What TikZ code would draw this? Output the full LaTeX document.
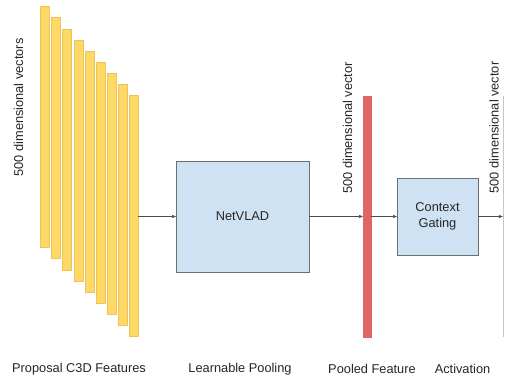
\documentclass[tikz,border=0pt]{standalone}
\usepackage{fontspec}
\setmainfont{Liberation Sans}
\usetikzlibrary{arrows.meta}
\definecolor{vecyellow}{HTML}{FFD966}
\definecolor{vecedge}{HTML}{EBC45C}
\definecolor{poolred}{HTML}{E06666}
\definecolor{boxblue}{HTML}{CFE2F3}
\definecolor{boxedge}{HTML}{6E6E6E}
\definecolor{txt}{HTML}{262626}
\begin{document}
\begin{tikzpicture}[x={(1pt,0)}, y={(0,-1pt)},
  vecbar/.style={draw=vecedge, line width=0.5pt, fill=vecyellow, inner sep=0, outer sep=0,
    minimum width=9pt, minimum height=241pt, anchor=north west},
  pooledbar/.style={draw=poolred, line width=0.5pt, fill=poolred, inner sep=0, outer sep=0,
    minimum width=8pt, minimum height=241pt, anchor=north west},
  block/.style={draw=boxedge, line width=0.6pt, fill=boxblue, inner sep=0, outer sep=0,
    text=txt, align=center, font=\fontsize{12.8}{16}\selectfont},
  lbl/.style={text=txt, inner sep=0, font=\fontsize{12.8}{15}\selectfont},
  flow/.style={draw=black!70, line width=0.6pt, -{Triangle[length=4pt,width=3pt]}}]
\useasboundingbox (0,0) rectangle (505,379);
\clip (0,0) rectangle (505,379);

% stack of proposal feature vectors
\foreach \i in {1,...,9}{
  \node[vecbar] (b\i) at ({40.5+11.1*(\i-1)},{6.5+11.15*(\i-1)}) {};
}

% processing blocks
\node[block, minimum width=133pt, minimum height=111pt] (net) at (242.5,216.5) {NetVLAD};
\node[pooledbar] (pool) at (363,96) {};
\node[block, minimum width=81pt, minimum height=77pt] (ctx) at (437.5,216.5) {Context\\Gating};

% output vector, partly outside the frame
\draw[draw=black!22, line width=0.6pt] (503.6,96) -- (503.6,337);
\coordinate (out) at (502.8,216.5);

% connectors
\draw[flow] (b9.east |- net.west) -- (net.west);
\draw[flow] (net.east) -- (pool.west |- net.east);
\draw[flow] (pool.east |- ctx.west) -- (ctx.west);
\draw[flow] (ctx.east) -- (out);

% vertical labels
\node[lbl, rotate=90] (d1) at (18.5,107.5) {500 dimensional vectors};
\node[lbl, rotate=90] (d2) at (347.5,128) {500 dimensional vector};
\node[lbl, rotate=90] (d3) at (494,127.5) {500 dimensional vector};

% stage captions
\node[lbl] (c1) at (79,369) {Proposal C3D Features};
\node[lbl] (c2) at (240,369) {Learnable Pooling};
\node[lbl] (c3) at (372,369) {Pooled Feature};
\node[lbl] (c4) at (462.5,369) {Activation};
\end{tikzpicture}
\end{document}
